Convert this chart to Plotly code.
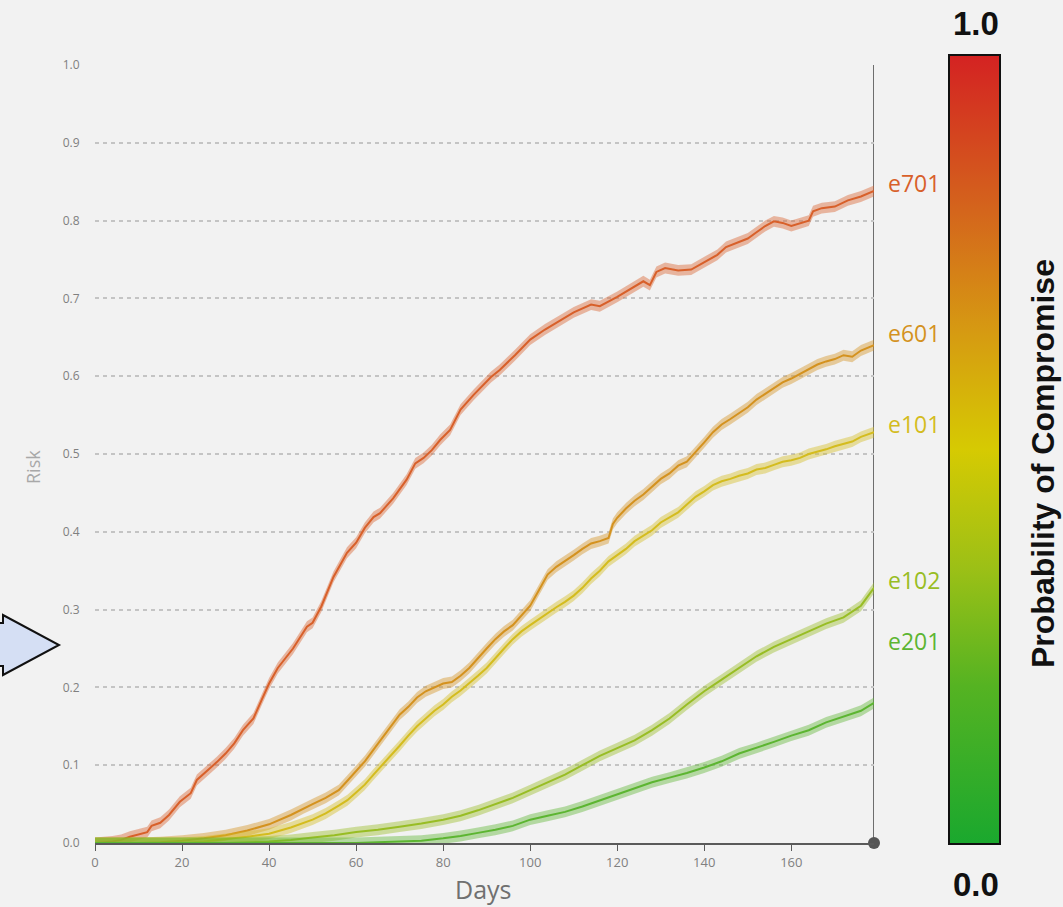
import plotly.graph_objects as go

# Cumulative risk of compromise per entity over time (days)
e701_days = [0, 4, 6, 8, 12, 13, 15, 17, 19.5, 22, 23.4, 25.7, 28, 30, 32, 34, 36.4, 38.3, 40, 42,
             45.5, 48.7, 50, 52, 54.8, 57.9, 60, 62, 64, 65.5, 68.5, 71.6, 73.6, 75.5, 77.4, 79.3,
             81.6, 84, 87, 91, 93, 96.5, 100, 103.4, 107, 110, 114, 116, 120, 124, 126, 127.5, 129,
             131, 134, 137, 139, 141, 143, 145, 148, 150, 152, 154, 156, 158, 160, 162, 164, 165,
             167, 170, 173, 176, 179]
e701_risk = [0.0, 0.002, 0.004, 0.008, 0.014, 0.022, 0.026, 0.036, 0.053, 0.064, 0.081, 0.092,
             0.104, 0.115, 0.128, 0.145, 0.16, 0.184, 0.205, 0.225, 0.25, 0.278, 0.283, 0.304,
             0.342, 0.373, 0.386, 0.405, 0.419, 0.424, 0.443, 0.467, 0.488, 0.495, 0.505, 0.518,
             0.531, 0.557, 0.576, 0.599, 0.608, 0.627, 0.647, 0.66, 0.672, 0.682, 0.692, 0.69,
             0.702, 0.715, 0.722, 0.717, 0.734, 0.739, 0.736, 0.737, 0.743, 0.749, 0.756, 0.766,
             0.772, 0.777, 0.785, 0.793, 0.799, 0.797, 0.793, 0.797, 0.80, 0.812, 0.816, 0.818,
             0.826, 0.831, 0.838]

e601_days = [0, 10, 15, 20, 25, 30, 35, 40, 45, 48, 50, 53, 56, 58, 60, 62, 64, 66, 68, 70, 72, 74,
             76, 78, 80, 82, 84, 86, 88, 90, 92, 94, 96, 98, 100, 102, 104, 106, 108, 110, 112, 114,
             116, 118, 119, 120, 122, 124, 126, 128, 130, 132, 134, 136, 138, 140, 142, 144, 146,
             148, 150, 152, 154, 156, 158, 160, 162, 164, 166, 168, 170, 172, 174, 176, 179]
e601_risk = [0.0, 0.0, 0.001, 0.003, 0.006, 0.01, 0.016, 0.024, 0.036, 0.045, 0.05, 0.058, 0.068,
             0.08, 0.092, 0.105, 0.12, 0.135, 0.15, 0.165, 0.175, 0.187, 0.195, 0.2, 0.205, 0.207,
             0.215, 0.225, 0.238, 0.25, 0.262, 0.272, 0.28, 0.292, 0.305, 0.325, 0.345, 0.355,
             0.362, 0.37, 0.378, 0.385, 0.388, 0.392, 0.41, 0.418, 0.43, 0.44, 0.448, 0.458, 0.468,
             0.475, 0.485, 0.49, 0.502, 0.515, 0.528, 0.538, 0.545, 0.552, 0.56, 0.57, 0.577, 0.584,
             0.592, 0.597, 0.603, 0.609, 0.615, 0.619, 0.622, 0.627, 0.625, 0.633, 0.64]

e101_days = [0, 20, 25, 30, 35, 40, 45, 50, 53, 56, 58, 60, 62, 64, 66, 68, 70, 72, 74, 76, 78, 80,
             82, 84, 86, 88, 90, 92, 94, 96, 98, 100, 102, 104, 106, 108, 110, 112, 114, 116, 118,
             120, 122, 124, 126, 128, 130, 132, 134, 136, 138, 140, 142, 144, 146, 148, 150, 152,
             154, 156, 158, 160, 162, 164, 166, 168, 170, 172, 174, 176, 179]
e101_risk = [0.0, 0.0, 0.002, 0.005, 0.008, 0.012, 0.02, 0.03, 0.038, 0.048, 0.055, 0.065, 0.075,
             0.088, 0.1, 0.112, 0.125, 0.138, 0.15, 0.16, 0.17, 0.178, 0.188, 0.196, 0.205, 0.215,
             0.225, 0.238, 0.25, 0.262, 0.272, 0.28, 0.288, 0.296, 0.303, 0.31, 0.318, 0.328, 0.34,
             0.35, 0.362, 0.37, 0.378, 0.388, 0.395, 0.402, 0.412, 0.418, 0.425, 0.435, 0.445,
             0.452, 0.46, 0.465, 0.468, 0.472, 0.475, 0.48, 0.482, 0.486, 0.49, 0.492, 0.495, 0.5,
             0.503, 0.506, 0.51, 0.513, 0.516, 0.522, 0.528]

e102_days = [0, 30, 40, 45, 50, 55, 60, 65, 70, 75, 80, 84, 88, 92, 96, 100, 104, 108, 112, 116,
             120, 124, 128, 132, 136, 140, 144, 148, 152, 156, 160, 164, 168, 172, 176, 179]
e102_risk = [0.0, 0.0, 0.002, 0.004, 0.007, 0.01, 0.014, 0.017, 0.021, 0.025, 0.03, 0.035, 0.042,
             0.05, 0.058, 0.068, 0.078, 0.088, 0.1, 0.112, 0.122, 0.132, 0.145, 0.16, 0.178, 0.195,
             0.21, 0.225, 0.24, 0.252, 0.262, 0.272, 0.282, 0.29, 0.305, 0.328]

e201_days = [0, 60, 65, 70, 75, 80, 84, 88, 92, 96, 100, 104, 108, 112, 116, 120, 124, 128, 132,
             136, 140, 144, 148, 152, 156, 160, 164, 168, 172, 176, 179]
e201_risk = [0.0, 0.0, 0.001, 0.002, 0.003, 0.006, 0.009, 0.013, 0.017, 0.022, 0.03, 0.035, 0.04,
             0.047, 0.055, 0.062, 0.07, 0.078, 0.084, 0.09, 0.097, 0.105, 0.115, 0.122, 0.13,
             0.138, 0.145, 0.155, 0.162, 0.17, 0.18]

series_names = ["e701", "e601", "e101", "e102", "e201"]
series_days = [e701_days, e601_days, e101_days, e102_days, e201_days]
series_risk = [e701_risk, e601_risk, e101_risk, e102_risk, e201_risk]
series_colors = ["#d8602a", "#d4921f", "#d4bc1e", "#98bd24", "#5cb531"]

band_halfwidth = 0.007
x_ticks = [0, 20, 40, 60, 80, 100, 120, 140, 160]
y_ticks = [0.0, 0.1, 0.2, 0.3, 0.4, 0.5, 0.6, 0.7, 0.8, 0.9, 1.0]
day_max = 179

prob_scale = [[0.0, "#1aa82e"], [0.2, "#55b322"], [0.35, "#9cc016"], [0.5, "#d6ca02"],
              [0.65, "#d69a12"], [0.8, "#d4661c"], [1.0, "#d42222"]]

# label offsets (pixels) above each series' last point
label_shift = {"e701": 8, "e601": 12, "e101": 8, "e102": 8, "e201": 62}

BG = "#f2f2f2"


def rgba(hex_color, a):
    h = hex_color.lstrip("#")
    r, g, b = int(h[0:2], 16), int(h[2:4], 16), int(h[4:6], 16)
    return f"rgba({r},{g},{b},{a})"


fig = go.Figure()

for name, d, r, c in zip(series_names, series_days, series_risk, series_colors):
    upper = [v + band_halfwidth for v in r]
    lower = [v - band_halfwidth for v in r]
    fig.add_trace(go.Scatter(x=d, y=upper, mode="lines", line=dict(width=0),
                             hoverinfo="skip", showlegend=False))
    fig.add_trace(go.Scatter(x=d, y=lower, mode="lines", line=dict(width=0),
                             fill="tonexty", fillcolor=rgba(c, 0.42),
                             hoverinfo="skip", showlegend=False))
    fig.add_trace(go.Scatter(x=d, y=r, mode="lines", name=name,
                             line=dict(color=c, width=2), showlegend=False))
    fig.add_annotation(x=1, xref="paper", y=r[-1], yref="y", text=name,
                       showarrow=False, xanchor="left", yanchor="middle",
                       xshift=12, yshift=label_shift[name],
                       font=dict(family="Open Sans", size=23, color=c))

# colour scale for probability of compromise (hidden carrier point)
fig.add_trace(go.Scatter(
    x=[0], y=[-5], mode="markers", hoverinfo="skip", showlegend=False,
    marker=dict(color=[0.5], cmin=0, cmax=1, colorscale=prob_scale, showscale=True, size=1,
                colorbar=dict(x=1.0963, xanchor="left", y=0.5058, yanchor="middle",
                              len=789, lenmode="pixels", thickness=51,
                              outlinewidth=2, outlinecolor="#111111",
                              xpad=0, ypad=0, ticks="", showticklabels=False))))

# end-of-axis marker
fig.add_trace(go.Scatter(x=[day_max], y=[0], mode="markers", cliponaxis=False,
                         marker=dict(size=12, color="#555555"), hoverinfo="skip",
                         showlegend=False))

# right-hand vertical rule
fig.add_shape(type="line", xref="x", yref="y", x0=day_max, x1=day_max, y0=0, y1=1,
              line=dict(color="#6e6e6e", width=2), layer="below")


# block arrow pointing at the chart, positioned in pixels
def px(xp):
    return (xp - 95) / 779


def py(yp):
    return (843 - yp) / 778


arrow = (f"M {px(-5)},{py(623)} L {px(3)},{py(623)} L {px(3)},{py(615)} "
         f"L {px(59)},{py(645)} L {px(3)},{py(675)} L {px(3)},{py(666)} "
         f"L {px(-5)},{py(666)} Z")
fig.add_shape(type="path", xref="paper", yref="paper", path=arrow,
              fillcolor="#d5dff4", line=dict(color="#111111", width=2))


def text_at(x, y, text, font, angle=0):
    fig.add_annotation(x=px(x), y=py(y), xref="paper", yref="paper", text=text,
                       textangle=angle, showarrow=False, xanchor="center",
                       yanchor="middle", font=font)


text_at(33, 467, "Risk", dict(family="Open Sans", size=18, color="#a8a8a8"), -90)
text_at(483, 889, "Days", dict(family="Open Sans", size=25, color="#707070"))
text_at(976, 24, "<b>1.0</b>", dict(family="Liberation Sans", size=33, color="#111111"))
text_at(976, 884, "<b>0.0</b>", dict(family="Liberation Sans", size=33, color="#111111"))
text_at(1043, 464, "<b>Probability of Compromise</b>",
        dict(family="Liberation Sans", size=32, color="#111111"), -90)

fig.update_layout(
    width=1063, height=907,
    margin=dict(l=95, r=189, t=65, b=64),
    paper_bgcolor=BG, plot_bgcolor=BG,
    showlegend=False,
    xaxis=dict(range=[0, day_max], tickvals=x_ticks, showgrid=False, zeroline=False,
               showline=True, linecolor="#5a5a5a", linewidth=2,
               ticks="outside", ticklen=6, tickwidth=1, tickcolor="#5a5a5a",
               tickfont=dict(family="Open Sans", size=13, color="#808080")),
    yaxis=dict(range=[0, 1], tickvals=y_ticks, ticktext=[f"{v:.1f}" for v in y_ticks],
               showgrid=True, gridcolor="#c4c4c4", gridwidth=2, griddash="4px,4px",
               zeroline=False, showline=False,
               ticks="outside", ticklen=12, tickcolor="rgba(0,0,0,0)",
               tickfont=dict(family="Open Sans", size=12, color="#808080")),
)

fig.write_html("out.html")
